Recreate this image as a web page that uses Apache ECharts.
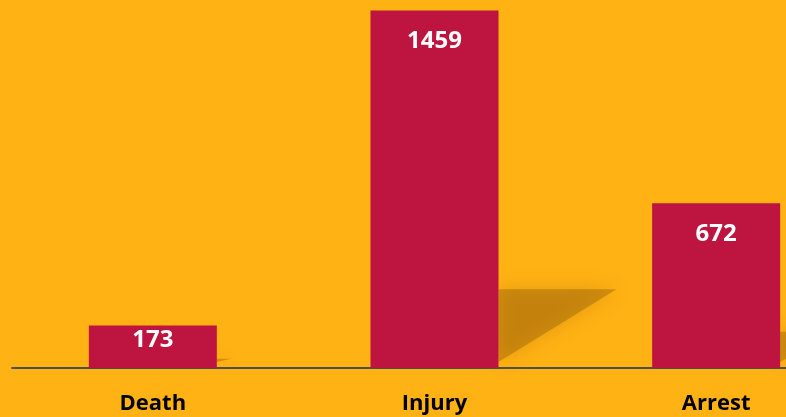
<!DOCTYPE html>
<html lang="en">
<head>
    <meta charset="UTF-8">
    <title>Death / Injury / Arrest</title>
    <script src="https://cdn.jsdelivr.net/npm/echarts@6/dist/echarts.min.js"></script>
    <style>
        html, body {
            margin: 0;
            padding: 0;
            background-color: #FFB214;
            overflow: hidden;
        }
        #chart {
            width: 786px;
            height: 417px;
        }
    </style>
</head>
<body>
    <div id="chart"></div>
    <script>
        // Chart data
        var categories = ['Death', 'Injury', 'Arrest'];
        var counts = [173, 1459, 672];

        var chart = echarts.init(document.getElementById('chart'));

        // Skewed drop shadow behind each bar, built from the bar's own coordinates
        function renderShadow(params, api) {
            var idx = api.value(0);
            var top = api.coord([idx, api.value(1)]);
            var base = api.coord([idx, 0]);
            var barW = 128;
            var h = base[1] - top[1];
            var xR = base[0] + barW / 2;
            var y0 = base[1];
            return {
                type: 'polygon',
                shape: {
                    points: [
                        [xR, y0 - 6],
                        [xR, y0 - 0.22 * h],
                        [xR + 0.33 * h, y0 - 0.22 * h]
                    ]
                },
                style: {
                    fill: 'rgba(165, 105, 10, 0.5)',
                    shadowBlur: 18,
                    shadowColor: 'rgba(165, 105, 10, 0.65)'
                }
            };
        }

        var option = {
            backgroundColor: '#FFB214',
            animation: false,
            grid: {
                left: 12,
                width: 845,
                top: 10.5,
                bottom: 49,
                outerBoundsMode: 'none'
            },
            xAxis: {
                type: 'category',
                data: categories,
                axisLine: { lineStyle: { color: '#4F4F4F', width: 2 } },
                axisTick: { show: false },
                axisLabel: {
                    color: '#000',
                    fontFamily: 'Open Sans',
                    fontWeight: 'bold',
                    fontSize: 22,
                    margin: 25
                }
            },
            yAxis: {
                type: 'value',
                min: 0,
                max: 1459,
                show: false,
                splitLine: { show: false }
            },
            series: [
                {
                    type: 'custom',
                    z: 1,
                    silent: true,
                    renderItem: renderShadow,
                    data: counts.map(function (v, i) { return [i, v]; })
                },
                {
                    type: 'bar',
                    z: 2,
                    barWidth: 128,
                    itemStyle: { color: '#BE1540' },
                    label: {
                        show: true,
                        position: 'insideTop',
                        color: '#fff',
                        fontFamily: 'Open Sans',
                        fontWeight: 'bold',
                        fontSize: 24
                    },
                    data: counts.map(function (v) {
                        // short bars keep the label close to the top edge
                        return { value: v, label: { distance: v < 300 ? 3 : 19 } };
                    })
                }
            ]
        };

        chart.setOption(option);
    </script>
</body>
</html>
